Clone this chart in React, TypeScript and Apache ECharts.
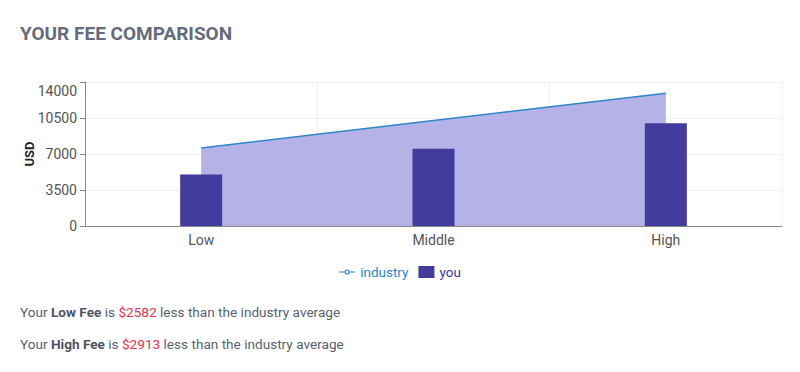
import React, { useEffect, useRef } from "react";
import * as echarts from "echarts";

const categories = ["Low", "Middle", "High"];
const industryValues = [7582, 10248, 12913];
const youValues = [5000, 7500, 10000];
const yTicks = [0, 3500, 7000, 10500, 14000];
const yAxisName = "USD";
const notes = [
  { level: "Low Fee", diff: "$2582" },
  { level: "High Fee", diff: "$2913" },
];

const FONT = "Roboto, 'Noto Sans', sans-serif";
const LINE_ICON =
  "path://M0,5.4 H5.6 V6.6 H0 Z M10.4,5.4 H16 V6.6 H10.4 Z " +
  "M5.4,6 A2.6,2.6 0 1,1 10.6,6 A2.6,2.6 0 1,1 5.4,6 Z " +
  "M6.6,6 A1.4,1.4 0 1,0 9.4,6 A1.4,1.4 0 1,0 6.6,6 Z";

export default function App() {
  const ref = useRef<HTMLDivElement>(null);
  useEffect(() => {
    document.body.style.margin = "0";
    const chart = echarts.init(ref.current!, undefined, { renderer: "svg" });
    const maxTick = yTicks[yTicks.length - 1];
    const interval = yTicks[1] - yTicks[0];
    chart.setOption({
      animation: false,
      textStyle: { fontFamily: FONT },
      title: [
        {
          text: "YOUR FEE COMPARISON",
          left: 15,
          top: 19,
          textStyle: { fontSize: 19, fontWeight: "bold", color: "#656b7c", fontFamily: FONT },
        },
        ...notes.map((n, i) => ({
          text: `Your {b|${n.level}} is {r|${n.diff}} less than the industry average`,
          left: 15,
          top: 300 + i * 32,
          textStyle: {
            fontSize: 13.6,
            color: "#5a5f6e",
            fontWeight: "normal",
            fontFamily: FONT,
            rich: {
              b: { fontSize: 13.6, fontWeight: "bold", color: "#4f5464", fontFamily: FONT },
              r: { fontSize: 13.6, color: "#e8334d", fontFamily: FONT },
            },
          },
        })),
      ],
      graphic: [
        {
          type: "text",
          x: 29,
          y: 154,
          rotation: Math.PI / 2,
          style: {
            text: yAxisName,
            fontSize: 13,
            fontWeight: "bold",
            fill: "#222",
            fontFamily: FONT,
            align: "center",
            verticalAlign: "middle",
          },
        },
      ],
      legend: {
        top: 260,
        left: "center",
        itemWidth: 16,
        itemHeight: 12,
        itemGap: 10,
        textStyle: { fontSize: 13.5, fontFamily: FONT },
        data: [
          { name: "industry", icon: LINE_ICON, itemStyle: { color: "#2f86c8", borderWidth: 0 }, textStyle: { color: "#2f86c8" } },
          { name: "you", icon: "rect", itemStyle: { color: "#413c9d" }, textStyle: { color: "#3f3a9c" } },
        ],
      },
      grid: { left: 85, right: 18, top: 82, bottom: 146, containLabel: false },
      xAxis: {
        type: "category",
        data: categories,
        boundaryGap: true,
        axisLine: { lineStyle: { color: "#888", width: 1 } },
        axisTick: { alignWithLabel: true, lineStyle: { color: "#888" }, length: 5 },
        axisLabel: { fontSize: 14, color: "#555", margin: 7, fontFamily: FONT },
        splitLine: { show: true, lineStyle: { color: "#f0f0f0" } },
      },
      yAxis: {
        type: "value",
        min: 0,
        max: maxTick,
        interval,
        axisLine: { show: true, lineStyle: { color: "#888" } },
        axisTick: { show: true, length: 5, lineStyle: { color: "#888" } },
        axisLabel: {
          fontSize: 14,
          color: "#555",
          margin: 8,
          fontFamily: FONT,
          formatter: (v: number) => (v === maxTick ? `{t|${v}}` : `${v}`),
          rich: { t: { fontSize: 14, color: "#555", padding: [18, 0, 0, 0], fontFamily: FONT } },
        },
        splitLine: { show: true, lineStyle: { color: "#f0f0f0" } },
      },
      series: [
        {
          name: "industry",
          type: "line",
          data: industryValues,
          symbol: "emptyCircle",
          showSymbol: false,
          symbolSize: 5,
          lineStyle: { color: "#2f86c8", width: 1.5 },
          itemStyle: { color: "#2f86c8" },
          areaStyle: { color: "#b4b2e6", opacity: 1 },
          z: 1,
        },
        {
          name: "you",
          type: "bar",
          data: youValues,
          barWidth: 42,
          itemStyle: { color: "#413c9d" },
          z: 2,
        },
      ],
    });
    return () => chart.dispose();
  }, []);
  return <div ref={ref} style={{ width: 800, height: 372, background: "#fff" }} />;
}
